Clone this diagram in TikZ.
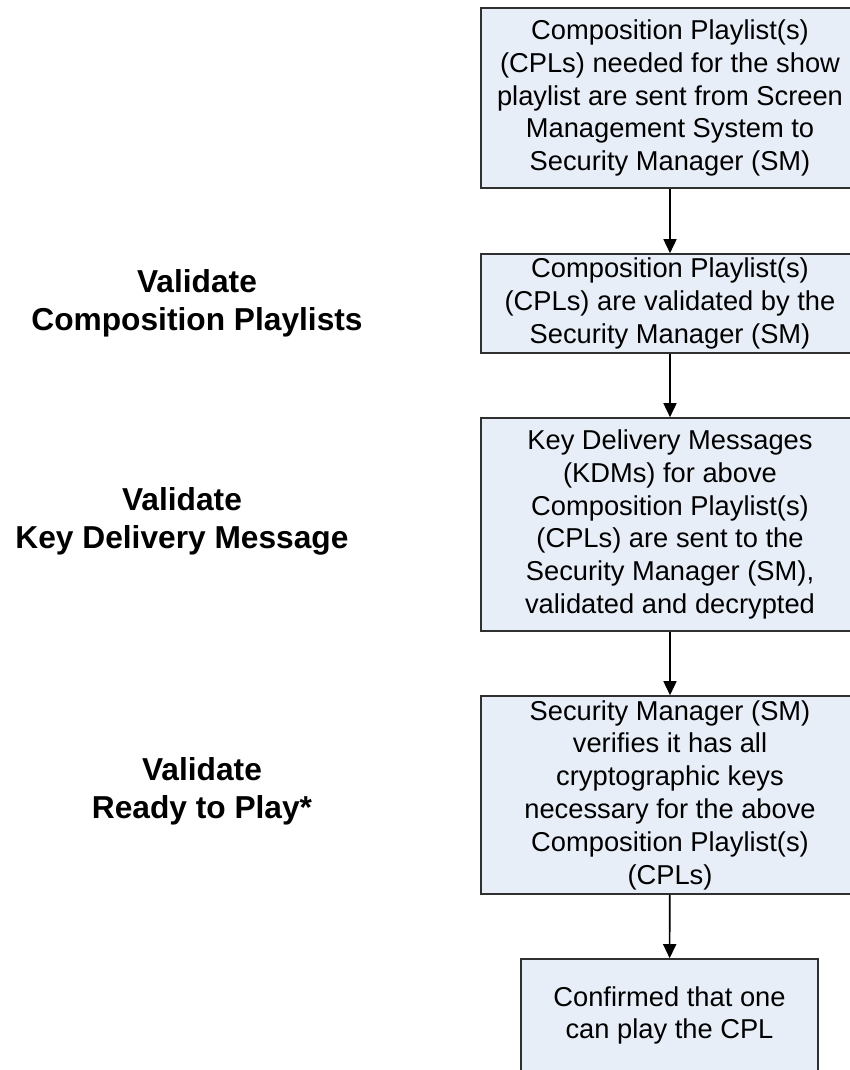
\documentclass[tikz,border=0pt]{standalone}
\usepackage{fontspec}
\setmainfont{Liberation Sans}
\usepackage{xcolor}
\usetikzlibrary{arrows.meta}
\definecolor{boxfill}{HTML}{E8EEF8}
\definecolor{boxline}{HTML}{303030}

\begin{document}
\begin{tikzpicture}[x=1pt,y=1pt,
  stepbox/.style={draw=boxline, line width=1.6pt, fill=boxfill, align=center,
    inner sep=0pt, minimum width=378pt, font=\fontsize{27.3}{32.8}\selectfont},
  phase/.style={align=center, font=\fontsize{31.7}{38}\selectfont\bfseries},
  flow/.style={line width=1.6pt, -{Triangle[length=14pt,width=13pt]}}]
\useasboundingbox (0,0) rectangle (849,-1070);
% Kasten rechts
\node[stepbox, minimum height=180pt] (cplsent) at (670,-98)
  {Composition Playlist(s)\\(CPLs) needed for the show\\playlist are sent from Screen\\Management System to\\Security Manager (SM)};
\node[stepbox, minimum height=99pt] (cplcheck) at (670,-303.5)
  {Composition Playlist(s)\\(CPLs) are validated by the\\Security Manager (SM)};
\node[stepbox, minimum height=213pt] (kdmcheck) at (670,-524.5)
  {Key Delivery Messages\\(KDMs) for above\\Composition Playlist(s)\\(CPLs) are sent to the\\Security Manager (SM),\\validated and decrypted};
\node[stepbox, minimum height=198pt] (keycheck) at (670,-795)
  {Security Manager (SM)\\verifies it has all\\cryptographic keys\\necessary for the above\\Composition Playlist(s)\\(CPLs)};
\node[stepbox, minimum width=297pt, minimum height=113pt] (play) at (669.5,-1015.5)
  {Confirmed that one\\can play the CPL};
% Pfeile
\draw[flow] (cplsent) -- (cplcheck);
\draw[flow] (cplcheck) -- (kdmcheck);
\draw[flow] (kdmcheck) -- (keycheck);
\draw[flow] (keycheck) -- (play);
% Beschriftung links
\node[phase] (phcpl) at (197,-303) {Validate\\Composition Playlists};
\node[phase] (phkdm) at (182,-521) {Validate\\Key Delivery Message};
\node[phase] (phplay) at (202,-791.5) {Validate\\Ready to Play*};
\end{tikzpicture}
\end{document}
